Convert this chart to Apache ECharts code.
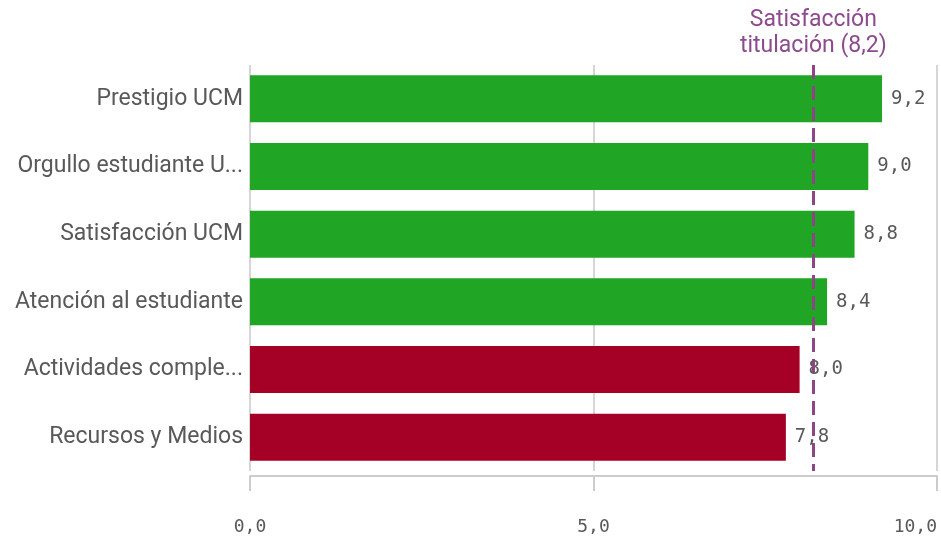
<!DOCTYPE html>
<html>
<head>
<meta charset="utf-8">
<script src="https://cdn.jsdelivr.net/npm/echarts@6/dist/echarts.min.js"></script>
<style>
html,body{margin:0;padding:0;background:#fff;}
#chart{width:941px;height:538px;}
</style>
</head>
<body>
<div id="chart"></div>
<script>
const categories = ["Prestigio UCM", "Orgullo estudiante UCM", "Satisfacción UCM", "Atención al estudiante", "Actividades complementarias", "Recursos y Medios"];
const values = [9.2, 9.0, 8.8, 8.4, 8.0, 7.8];
const barColors = ["#21a524", "#21a524", "#21a524", "#21a524", "#a50026", "#a50026"];
const referenceValue = 8.2;
const referenceLabel = "Satisfacción\ntitulación (8,2)";
const xTicks = [0, 5, 10];

const fmt = v => v.toFixed(1).replace('.', ',');

const chart = echarts.init(document.getElementById('chart'), null, {renderer: 'canvas'});
chart.setOption({
  animation: false,
  grid: {left: 250, right: 4, top: 65, bottom: 67},
  xAxis: {
    type: 'value', min: xTicks[0], max: xTicks[xTicks.length - 1], interval: 5,
    offset: 5,
    axisLine: {show: true, lineStyle: {color: '#cccccc', width: 2}},
    axisTick: {show: true, length: 15, lineStyle: {color: '#cccccc', width: 2}},
    axisLabel: {formatter: fmt, fontFamily: 'DejaVu Sans Mono', fontSize: 18, color: '#595959', margin: 42, alignMaxLabel: 'right'},
    splitLine: {show: true, lineStyle: {color: '#d6d6d6', width: 2}}
  },
  yAxis: {
    type: 'category', data: categories, inverse: true,
    axisLine: {show: false}, axisTick: {show: false},
    axisLabel: {fontFamily: 'Roboto', fontSize: 23, color: '#595959', margin: 7, width: 238, overflow: 'truncate', ellipsis: '...'}
  },
  series: [{
    type: 'bar',
    data: values.map((v, i) => ({value: v, itemStyle: {color: barColors[i]}})),
    barWidth: 47,
    label: {show: true, position: 'right', distance: 9, formatter: p => fmt(p.value), fontFamily: 'DejaVu Sans Mono', fontSize: 19, color: '#595959'},
    markLine: {
      silent: true, symbol: 'none',
      data: [{xAxis: referenceValue}],
      lineStyle: {color: '#8e4585', width: 3, type: [14, 7]},
      label: {show: true, position: 'start', formatter: referenceLabel, color: '#8e4a8e', fontFamily: 'Roboto', fontSize: 23, lineHeight: 26, distance: 6}
    }
  }]
});
</script>
</body>
</html>
